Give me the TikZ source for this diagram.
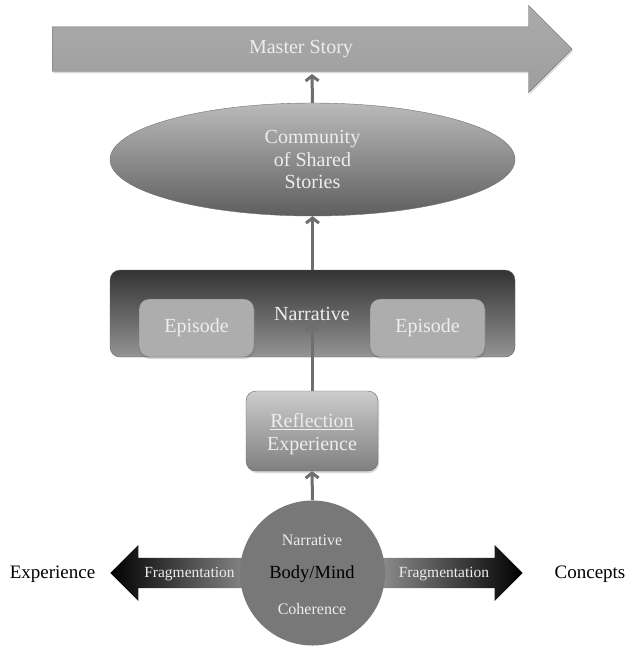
\documentclass[tikz,border=0pt]{standalone}
\usepackage{fontspec}
\setmainfont{Liberation Serif}
\usetikzlibrary{calc, arrows.meta, shapes.arrows, shapes.geometric, shadows}

\tikzset{
  link/.style={draw=black!57, line width=3pt, -{Straight Barb[length=5pt,width=13pt]}},
  big/.style={font=\fontsize{20}{22.5}\selectfont, text=white!93!black},
  small/.style={font=\fontsize{16}{18}\selectfont, text=white!93!black},
  box/.style={draw=black!60, rounded corners=10pt, inner sep=0pt},
  shade/.style={drop shadow={shadow xshift=1pt, shadow yshift=-2pt, opacity=.3}},
  frag/.style={single arrow, inner xsep=0pt, inner ysep=15pt, minimum height=160pt,
    single arrow head extend=13pt},
}

\begin{document}
\begin{tikzpicture}[x=1pt, y=-1pt]
			\useasboundingbox (0,0) rectangle (629,649);
			% master story
			\node[single arrow, anchor=tail, inner xsep=0pt, inner ysep=22pt, minimum height=520pt,
			  single arrow head extend=21.5pt, top color=black!33, bottom color=black!38,
			  draw=black!60, shade] (master) at (52,49) {};
			\node[big] (mastertxt) at (301,49) {Master Story};
			\coordinate (mbase) at (312,74);
			% community
			\node[ellipse, minimum width=405pt, minimum height=113pt, draw=black!55,
			  top color=black!27, bottom color=black!63, big, align=center]
			  (comm) at (312.5,159.5) {Community\\of Shared\\Stories};
			% narrative and episodes
			\node[box, minimum width=405pt, minimum height=87pt, top color=black!80,
			  bottom color=black!42] (narr) at (312.5,313.5) {};
			\node[big] (narrtxt) at (312,314) {Narrative};
			\node[box, minimum width=115pt, minimum height=58pt, fill=black!32, big, shade]
			  (epiL) at (196.5,328) {Episode};
			\node[box, minimum width=115pt, minimum height=58pt, fill=black!32, big, shade]
			  (epiR) at (427.5,328) {Episode};
			% reflection
			\node[box, minimum width=132pt, minimum height=80pt, top color=black!20,
			  bottom color=black!50, shade] (refl) at (312,431) {};
			\node[big, align=center] (refltxt) at (312,434) {\underline{Reflection}\\Experience};
			% body/mind with fragmentation
			\node[frag, shape border rotate=180, anchor=tip, left color=black,
			  right color=black!38] (fragL) at (110,573) {};
			\node[frag, anchor=tip, left color=black!38, right color=black] (fragR) at (523,573) {};
			\node[circle, minimum size=145pt, inner sep=0pt, fill=black!53] (core) at (312.5,573) {};
			\node[small] (cnarr) at (312,540) {Narrative};
			\node[font=\fontsize{18.5}{20}\selectfont] (cbody) at (312,574) {Body/Mind};
			\node[small] (ccoh) at (312,609) {Coherence};
			\node[font=\fontsize{15.5}{18}\selectfont, text=white!93!black] (fragLtxt) at (189.5,574) {Fragmentation};
			\node[font=\fontsize{15.5}{18}\selectfont, text=white!93!black] (fragRtxt) at (444,574) {Fragmentation};
			\node[font=\fontsize{19}{21}\selectfont] (expe) at (52.5,574) {Experience};
			\node[font=\fontsize{19}{21}\selectfont] (conc) at (590,574) {Concepts};
			% links
			\draw[link] (core.north) -- (refl.south);
			\draw[link] (refl.north) -- (narrtxt.south);
			\draw[link] (narr.north) -- (comm.south);
			\draw[link] (comm.north) -- (mbase);
		\end{tikzpicture}
\end{document}
